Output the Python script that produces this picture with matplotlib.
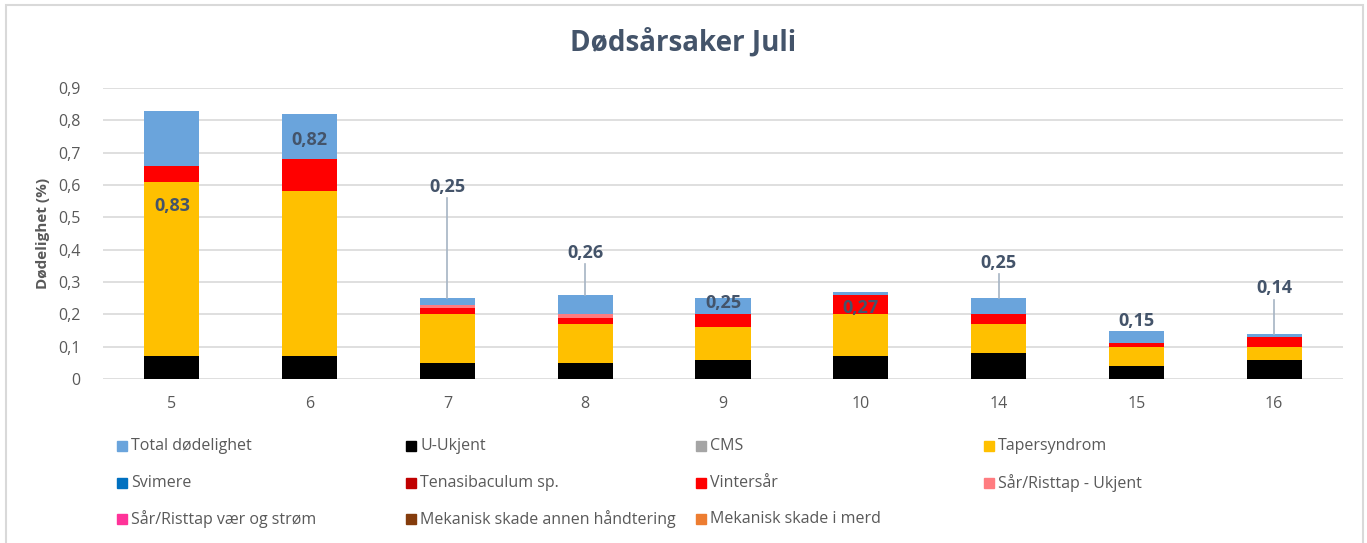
import numpy as np
import matplotlib
matplotlib.use("Agg")
import matplotlib.pyplot as plt
from matplotlib.patches import Rectangle

plt.rcParams['font.family'] = ['Open Sans', 'DejaVu Sans']

# data
lokaliteter = ['5', '6', '7', '8', '9', '10', '14', '15', '16']
total = [0.83, 0.82, 0.25, 0.26, 0.25, 0.27, 0.25, 0.15, 0.14]

series_names = ['Total dødelighet', 'U-Ukjent', 'CMS', 'Tapersyndrom',
                'Svimere', 'Tenasibaculum sp.', 'Vintersår', 'Sår/Risttap - Ukjent',
                'Sår/Risttap vær og strøm', 'Mekanisk skade annen håndtering',
                'Mekanisk skade i merd']
series_colors = ['#6AA4DC', '#000000', '#A5A5A5', '#FFC000',
                 '#0070C0', '#C00000', '#FF0000', '#FF7C80',
                 '#FF3399', '#843C0C', '#ED7D31']

u_ukjent = [0.07, 0.07, 0.05, 0.05, 0.06, 0.07, 0.08, 0.04, 0.06]
cms = [0, 0, 0, 0, 0, 0, 0, 0, 0]
tapersyndrom = [0.54, 0.51, 0.15, 0.12, 0.10, 0.13, 0.09, 0.06, 0.04]
svimere = [0, 0, 0, 0, 0, 0, 0, 0, 0]
tenasibaculum = [0, 0, 0, 0, 0, 0, 0, 0, 0]
vintersar = [0.05, 0.10, 0.02, 0.02, 0.04, 0.06, 0.03, 0.01, 0.03]
sar_ukjent = [0, 0, 0.01, 0.01, 0, 0, 0, 0, 0]
sar_vaer = [0, 0, 0, 0, 0, 0, 0, 0, 0]
mek_annen = [0, 0, 0, 0, 0, 0, 0, 0, 0]
mek_merd = [0, 0, 0, 0, 0, 0, 0, 0, 0]

stacks = [u_ukjent, cms, tapersyndrom, svimere, tenasibaculum, vintersar,
          sar_ukjent, sar_vaer, mek_annen, mek_merd]

# where the data labels sit (Excel placed them by hand)
label_y = [0.535, 0.74, 0.595, 0.39, 0.235, 0.22, 0.36, 0.18, 0.28]
leader = [False, False, True, True, False, False, True, False, True]

label_col = '#44546A'
grey = '#595959'

fig = plt.figure(figsize=(13.67, 5.43), dpi=100)
ax = fig.add_axes([103/1367, 1 - 379/543, 1240/1367, 291/543])

x = np.arange(len(lokaliteter))
w = 0.4
ax.bar(x, total, w, color=series_colors[0], zorder=2)
bottom = np.zeros(len(x))
for vals, col in zip(stacks, series_colors[1:]):
    vals = np.array(vals)
    ax.bar(x, vals, w, bottom=bottom, color=col, zorder=3)
    bottom += vals

for i, (t, ly) in enumerate(zip(total, label_y)):
    ax.text(x[i], ly, f"{t:.2f}".replace('.', ','), ha='center', va='center',
            fontsize=13, fontweight='bold', color=label_col, zorder=5)
    if leader[i]:
        ax.plot([x[i], x[i]], [t, ly - 0.035], color='#A6B4C4', lw=1.2, zorder=4)

ax.set_xlim(-0.5, len(x) - 0.5)
ax.set_ylim(0, 0.9)
yt = np.arange(0, 0.91, 0.1)
ax.set_yticks(yt)
ax.set_yticklabels(['0' if v == 0 else f"{v:.1f}".replace('.', ',') for v in yt])
ax.set_xticks(x)
ax.set_xticklabels(lokaliteter)
ax.tick_params(length=0, labelsize=11.5, labelcolor=grey)
ax.tick_params(axis='y', pad=16)
ax.tick_params(axis='x', pad=12)
ax.grid(axis='y', color='#D9D9D9', lw=1.2, zorder=0)
for s in ax.spines.values():
    s.set_visible(False)
ax.set_ylabel('Dødelighet (%)', fontsize=11, fontweight='bold', color=grey, labelpad=6)

fig.text(683/1367, 1 - 43/543, 'Dødsårsaker Juli', ha='center', va='center',
         fontsize=20, fontweight='bold', color=label_col)

# legend, filled row by row like Excel
col_x = [118, 407, 697, 985]
row_y = [446, 483, 519]
for k, (name, col) in enumerate(zip(series_names, series_colors)):
    px = col_x[k % 4]
    py = row_y[k // 4]
    fig.patches.append(Rectangle(((px - 1) / 1367, 1 - (py + 5) / 543), 10 / 1367, 10 / 543,
                                 transform=fig.transFigure, color=col))
    fig.text((px + 13) / 1367, 1 - py / 543, name, ha='left', va='center',
             fontsize=11.5, color=grey)

# chart border
fig.patches.append(Rectangle((6 / 1367, -0.02), 1357 / 1367, 1 - 5 / 543 + 0.02,
                             transform=fig.transFigure, fill=False, ec='#D9D9D9', lw=1.5))

fig.savefig('out.png', dpi=100)
